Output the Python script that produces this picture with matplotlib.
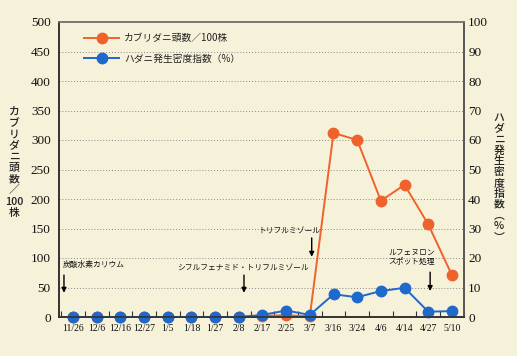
import matplotlib
matplotlib.use("Agg")
import matplotlib.pyplot as plt
from matplotlib.ticker import MultipleLocator

plt.rcParams['font.family'] = ['Noto Sans CJK JP', 'DejaVu Sans']

# Survey dates (categorical x axis)
dates = ['11/26', '12/6', '12/16', '12/27', '1/5', '1/18', '1/27', '2/8', '2/17',
         '2/25', '3/7', '3/16', '3/24', '4/6', '4/14', '4/27', '5/10']
# Predatory mites per 100 plants (left axis)
predator = [0, 0, 0, 0, 0, 0, 0, 0, 2, 3, 1, 312, 300, 197, 224, 157, 71]
# Spider mite density index in % (right axis)
mite_index = [0, 0, 0, 0, 0, 0, 0, 0, 0.7, 2.2, 0.7, 7.7, 6.7, 8.8, 9.9, 1.8, 2.0]

# Spray treatments: label, text x / y, arrow x, arrow tail y, arrow tip y
spray_labels = ['炭酸水素カリウム', 'シフルフェナミド・トリフルミゾール',
                'トリフルミゾール', 'ルフェヌロン\nスポット処理']
spray_text_x = [-0.42, 4.39, 7.81, 13.3]
spray_text_y = [88, 83, 144, 100]
spray_arrow_x = [-0.38, 7.22, 10.08, 15.08]
spray_arrow_from = [71, 71, 134, 76]
spray_arrow_to = [41, 41, 102, 44]

# Vertical (tategaki) axis titles, one entry per stacked glyph
left_title = ['カ', 'ブ', 'リ', 'ダ', 'ニ', '頭', '数', '／', '100', '株']
right_title = ['ハ', 'ダ', 'ニ', '発', '生', '密', '度', '指', '数', '︵', '%', '︶']

bg = '#f6f2da'
orange = '#f0622c'
blue = '#1f68cc'
num_font = 'Liberation Serif'

fig = plt.figure(figsize=(5.17, 3.56), dpi=100, facecolor=bg)
ax = fig.add_axes([59/517, 1 - 317/356, 405/517, 295/356])
ax.set_facecolor(bg)
ax2 = ax.twinx()

x = list(range(len(dates)))
ln1, = ax.plot(x, predator, color=orange, lw=1.4, marker='o', ms=7.5,
               mec=orange, mfc=orange, label='カブリダニ頭数／100株', clip_on=False)
ln2, = ax2.plot(x, mite_index, color=blue, lw=1.4, marker='o', ms=7.5,
                mec=blue, mfc=blue, label='ハダニ発生密度指数（%）', clip_on=False)

ax.set_xlim(-0.59, len(dates) - 0.49)
ax.set_ylim(0, 500)
ax2.set_ylim(0, 100)
ax.yaxis.set_major_locator(MultipleLocator(50))
ax2.yaxis.set_major_locator(MultipleLocator(10))

ax.set_xticks(x)
ax.set_xticklabels(dates, fontfamily=num_font, fontsize=7, color='#111111')
ax.set_xticks([i + 0.5 for i in range(-1, len(dates))], minor=True)
ax.tick_params(axis='x', which='major', length=0, pad=5)
ax.tick_params(axis='x', which='minor', direction='in', length=4, width=0.8, color='#333333')
ax.tick_params(axis='y', length=0, pad=6)
ax2.tick_params(axis='y', length=0, pad=3)
for lab in ax.get_yticklabels() + ax2.get_yticklabels():
    lab.set_fontfamily(num_font)
    lab.set_fontsize(9.5)
    lab.set_color('#111111')

ax.grid(axis='y', linestyle=(0, (1, 2)), color='#888888', lw=0.7)
ax.set_axisbelow(True)

for a in (ax, ax2):
    a.spines['top'].set_color('#777777')
    a.spines['left'].set_color('#333333')
    a.spines['right'].set_color('#555555')
    a.spines['bottom'].set_color('#333333')
    for s in a.spines.values():
        s.set_linewidth(1.2)

# Spray annotations
for i, label in enumerate(spray_labels):
    ax.text(spray_text_x[i], spray_text_y[i], label, fontsize=5.6, ha='left',
            va='center', linespacing=1.05, color='#111111')
    ax.annotate('', xy=(spray_arrow_x[i], spray_arrow_to[i]),
                xytext=(spray_arrow_x[i], spray_arrow_from[i]),
                arrowprops=dict(arrowstyle='-|>', color='black', lw=1.0,
                                mutation_scale=7, shrinkA=0, shrinkB=0))

leg = ax2.legend(handles=[ln1, ln2], loc='upper left', bbox_to_anchor=(0.045, 0.985),
                 frameon=False, fontsize=7, handlelength=3.6, labelspacing=1.05,
                 handletextpad=0.5, borderaxespad=0.3)
for t in leg.get_texts():
    t.set_color('#222222')

# stack the title glyphs top to bottom
for j, ch in enumerate(left_title):
    fig.text(14/517, 1 - (112 + j * 11.2)/356, ch, fontsize=7.8, ha='center',
             va='center', color='#222222', fontweight='medium')
for j, ch in enumerate(right_title):
    fig.text(499/517, 1 - (118 + j * 10.8)/356, ch, fontsize=7.8, ha='center',
             va='center', color='#222222', fontweight='medium')

fig.savefig('out.png', dpi=100, facecolor=bg)
